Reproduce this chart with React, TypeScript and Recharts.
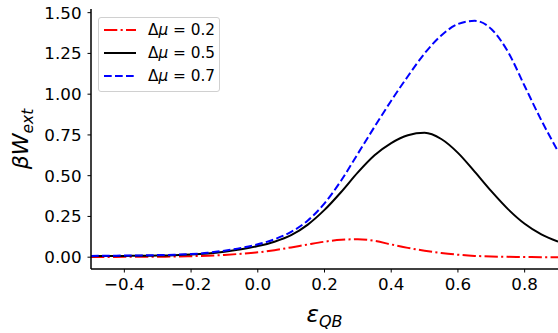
import { LineChart, Line, XAxis, YAxis } from 'recharts'

// x grid of eps_QB
const epsQB = [
    -0.5, -0.45, -0.4, -0.35, -0.3, -0.25, -0.2, -0.15, -0.1, -0.05,
    0.0, 0.05, 0.1, 0.15, 0.2, 0.25, 0.3, 0.35, 0.4, 0.45,
    0.5, 0.55, 0.6, 0.65, 0.7, 0.75, 0.8, 0.85, 0.9,
]

// beta W_ext for each delta mu
const wMu02 = [
    0.001, 0.001, 0.002, 0.002, 0.003, 0.004, 0.006, 0.009, 0.014, 0.021,
    0.03, 0.043, 0.06, 0.078, 0.095, 0.107, 0.11, 0.1, 0.078, 0.057,
    0.04, 0.026, 0.015, 0.008, 0.004, 0.002, 0.001, 0.0, 0.0,
]
const wMu05 = [
    0.006, 0.007, 0.008, 0.009, 0.01, 0.012, 0.016, 0.023, 0.034, 0.049,
    0.068, 0.095, 0.135, 0.2, 0.29, 0.4, 0.52, 0.625, 0.7, 0.748,
    0.763, 0.725, 0.64, 0.525, 0.405, 0.295, 0.205, 0.14, 0.095,
]
const wMu07 = [
    0.008, 0.009, 0.01, 0.011, 0.013, 0.015, 0.019, 0.027, 0.04, 0.057,
    0.079, 0.11, 0.155, 0.225, 0.33, 0.47, 0.635, 0.8, 0.96, 1.11,
    1.25, 1.36, 1.43, 1.45, 1.4, 1.26, 1.05, 0.84, 0.65,
]

const xTicks = [-0.4, -0.2, 0.0, 0.2, 0.4, 0.6, 0.8]
const yTicks = [0, 0.25, 0.5, 0.75, 1.0, 1.25, 1.5]

const series = [
    { key: 'mu02', label: '0.2', values: wMu02, color: '#ff0000', dash: '13.3 3.3 2.1 3.3' },
    { key: 'mu05', label: '0.5', values: wMu05, color: '#000000', dash: undefined },
    { key: 'mu07', label: '0.7', values: wMu07, color: '#0000ff', dash: '7.7 3.3' },
]

const data = epsQB.map((x, i) => {
    const row: Record<string, number> = { x }
    series.forEach(s => { row[s.key] = s.values[i] })
    return row
})

const FONT = 'DejaVu Sans'
const fmtX = (v: number) => (v < 0 ? '\u2212' : '') + Math.abs(v).toFixed(1)
const fmtY = (v: number) => v.toFixed(2)

function XLabel(props: any) {
    const { x, width } = props.viewBox
    return (
        <text x={x + width / 2} y={322} textAnchor="middle" fontFamily={FONT} fontStyle="italic" fontSize={23} fill="#000">
            ε<tspan fontSize={16} dy={5}>QB</tspan>
        </text>
    )
}

function YLabel() {
    return (
        <text x={28} y={139} transform="rotate(-90 28 139)" textAnchor="middle" fontFamily={FONT} fontStyle="italic" fontSize={22} fill="#000">
            βW<tspan fontSize={15.5} dy={5}>ext</tspan>
        </text>
    )
}

export default function App() {
    return (
        <div style={{ position: 'absolute', left: 0, top: 0, width: 558, height: 333, background: '#fff', fontFamily: FONT }}>
            <LineChart width={558} height={333} data={data} margin={{ top: 9, right: 0, left: 0, bottom: 0 }}>
                <XAxis
                    dataKey="x"
                    type="number"
                    domain={[-0.5, 0.9]}
                    ticks={xTicks}
                    tickFormatter={fmtX}
                    allowDataOverflow
                    height={64}
                    tickSize={3.5}
                    tickMargin={6}
                    axisLine={{ stroke: '#000', strokeWidth: 1.5 }}
                    tickLine={{ stroke: '#000', strokeWidth: 1 }}
                    tick={{ fill: '#000', fontSize: 16.7, fontFamily: FONT }}
                    label={{ content: XLabel }}
                />
                <XAxis
                    xAxisId="top"
                    orientation="top"
                    dataKey="x"
                    type="number"
                    domain={[-0.5, 0.9]}
                    height={0}
                    tick={false}
                    tickLine={false}
                    axisLine={{ stroke: '#000', strokeWidth: 1.5 }}
                />
                <YAxis
                    type="number"
                    domain={[-0.0725, 1.5225]}
                    ticks={yTicks}
                    tickFormatter={fmtY}
                    allowDataOverflow
                    width={91}
                    tickSize={3.5}
                    tickMargin={6}
                    axisLine={{ stroke: '#000', strokeWidth: 1.5 }}
                    tickLine={{ stroke: '#000', strokeWidth: 1 }}
                    tick={{ fill: '#000', fontSize: 16.7, fontFamily: FONT }}
                    label={{ content: YLabel }}
                />
                {series.map(s => (
                    <Line
                        key={s.key}
                        dataKey={s.key}
                        type="monotone"
                        stroke={s.color}
                        strokeWidth={2}
                        strokeDasharray={s.dash}
                        dot={false}
                        activeDot={false}
                        isAnimationActive={false}
                    />
                ))}
            </LineChart>
            {/* legend box, upper left */}
            <div style={{
                position: 'absolute', left: 98, top: 17, width: 120, height: 72,
                border: '1px solid #d0d0d0', borderRadius: 3, background: 'rgba(255,255,255,0.8)',
                paddingTop: 1, boxSizing: 'content-box',
            }}>
                {series.map(s => (
                    <div key={s.key} style={{ display: 'flex', alignItems: 'center', height: 22.8 }}>
                        <svg width={32} height={6} style={{ marginLeft: 5, marginRight: 12 }}>
                            <line x1={0} y1={3} x2={32} y2={3} stroke={s.color} strokeWidth={2} strokeDasharray={s.dash} />
                        </svg>
                        <span style={{ fontSize: 15.3, color: '#000', whiteSpace: 'nowrap' }}>
                            Δ<i>μ</i> = {s.label}
                        </span>
                    </div>
                ))}
            </div>
        </div>
    )
}
